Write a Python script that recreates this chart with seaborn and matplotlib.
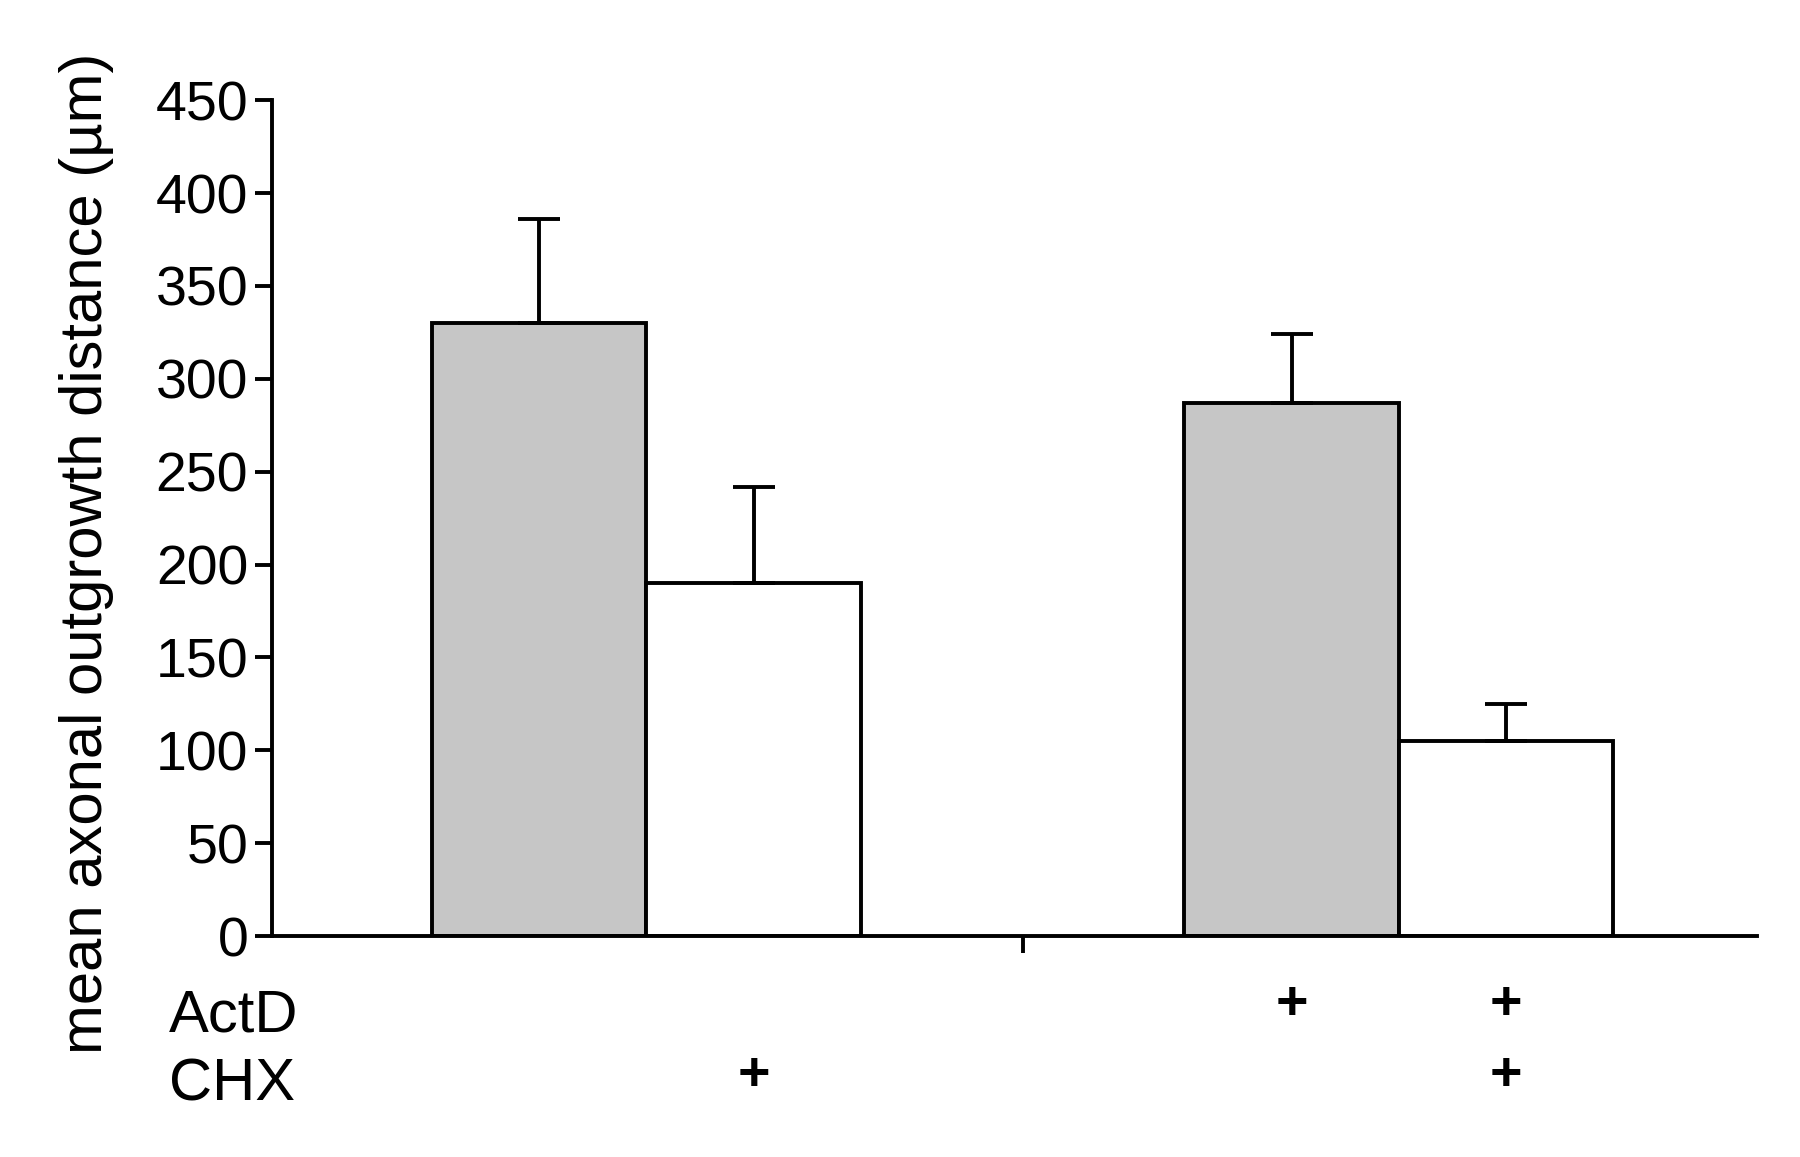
import matplotlib
matplotlib.use("Agg")
import matplotlib.pyplot as plt
import matplotlib.transforms as mtransforms
import seaborn as sns
import pandas as pd

# ---- data ----
actd_groups = ["-", "+"]          # x categories (ActD)
chx_levels = ["-", "+"]           # hue (CHX)
bar_actd = ["-", "-", "+", "+"]
bar_chx = ["-", "+", "-", "+"]
means = [330, 190, 287, 105]
sem_up = [56, 52, 37, 20]
row_labels = ["ActD", "CHX"]
ytick_vals = [0, 50, 100, 150, 200, 250, 300, 350, 400, 450]

df = pd.DataFrame({"ActD": bar_actd, "CHX": bar_chx, "mean": means})

sns.set_theme(style="ticks")
plt.rcParams["font.family"] = ["Liberation Sans", "DejaVu Sans"]
plt.rcParams["text.color"] = "black"
plt.rcParams["axes.labelcolor"] = "black"
plt.rcParams["xtick.color"] = "black"
plt.rcParams["ytick.color"] = "black"

fig = plt.figure(figsize=(18, 11.57), dpi=100)
ax = fig.add_axes([0.151, 0.191, 0.825, 0.7224])

LW = 2.8
palette = {"-": "#c6c6c6", "+": "#ffffff"}
sns.barplot(data=df, x="ActD", y="mean", hue="CHX", order=actd_groups,
            hue_order=chx_levels, palette=palette, width=0.57, gap=0,
            edgecolor="black", linewidth=LW, errorbar=None, saturation=1,
            legend=False, ax=ax)

# error bars (upper only) at bar centers
patches = [p for p in ax.patches if p.get_height() > 0]
patches.sort(key=lambda p: p.get_x())
xs = [p.get_x() + p.get_width() / 2 for p in patches]
ax.errorbar(xs, means, yerr=[[0] * 4, sem_up], fmt="none", ecolor="black",
            elinewidth=LW, capsize=15, capthick=LW, zorder=1)

ax.set_xlim(-0.498, 1.476)
ax.set_ylim(0, 450)
ax.set_yticks(ytick_vals)
ax.set_yticklabels([str(v) for v in ytick_vals])
ax.set_xticks([0.5])
ax.set_xticklabels([""])
ax.set_xlabel("")
ax.set_ylabel("mean axonal outgrowth distance (\u00b5m)", fontsize=43,
              va="center", color="black")
ax.yaxis.set_label_coords(-0.125, 0.458)

for s in ["top", "right"]:
    ax.spines[s].set_visible(False)
for s in ["left", "bottom"]:
    ax.spines[s].set_linewidth(LW)
    ax.spines[s].set_color("black")
ax.tick_params(axis="both", width=LW, length=12, color="black",
               labelsize=40, pad=5, labelcolor="black")

# treatment rows under the axis
trans = mtransforms.blended_transform_factory(ax.transData, fig.transFigure)
label_y = [1 - 1016 / 1157, 1 - 1085 / 1157]
plus_y = [1 - 1005 / 1157, 1 - 1076 / 1157]
for lab, yy in zip(row_labels, label_y):
    fig.text(169 / 1800, yy, lab, fontsize=43, ha="left", va="center",
             color="black")
for x, a, c in zip(xs, bar_actd, bar_chx):
    if a == "+":
        ax.text(x, plus_y[0], "+", transform=trans, fontsize=40,
                fontweight="bold", ha="center", va="center", color="black")
    if c == "+":
        ax.text(x, plus_y[1], "+", transform=trans, fontsize=40,
                fontweight="bold", ha="center", va="center", color="black")

fig.savefig("out.png", dpi=100, facecolor="white")
